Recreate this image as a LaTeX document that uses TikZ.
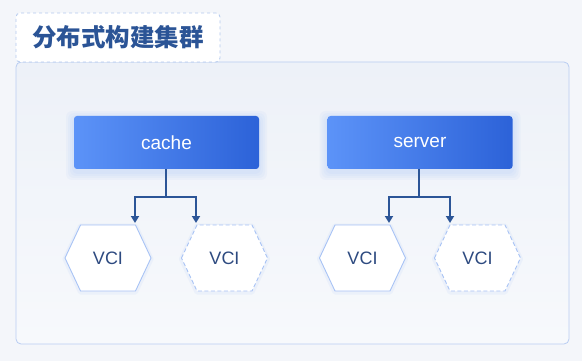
\documentclass[tikz,border=0pt]{standalone}
\usepackage{fontspec}
\setmainfont{Liberation Sans}
\newfontfamily\cjk{Noto Sans CJK SC}
\usetikzlibrary{arrows.meta}
\definecolor{bgc}{HTML}{F4F6FA}
\definecolor{panelA}{HTML}{EDF1F8}
\definecolor{panelB}{HTML}{F7F9FC}
\definecolor{panelline}{HTML}{B9CDF2}
\definecolor{titleline}{HTML}{B3C9EE}
\definecolor{titletext}{HTML}{2B5496}
\definecolor{boxA}{HTML}{5C93F8}
\definecolor{boxB}{HTML}{2C62D8}
\definecolor{conn}{HTML}{2C5597}
\definecolor{hexline}{HTML}{A8C3F5}
\definecolor{vcitext}{HTML}{2D4A80}
\tikzset{
  bluebox/.style={rounded corners=3pt, minimum width=185pt, minimum height=53pt,
    left color=boxA, right color=boxB, draw=none, text=white,
    font=\fontsize{19}{22}\selectfont},
  glow/.style={fill=boxA, opacity=0.045, draw=none},
  connline/.style={draw=conn, line width=1.8pt, -{Triangle[width=8pt,length=7pt]}},
  stem/.style={draw=conn, line width=1.8pt},
  hexsolid/.style={draw=hexline, fill=white, line width=0.9pt},
  hexdash/.style={hexsolid, dash pattern=on 4pt off 2.5pt},
  hexglow/.style={draw=hexline, opacity=0.12, line width=5pt, line join=round},
  vcilabel/.style={text=vcitext, font=\fontsize{18}{21}\selectfont}
}
\newcommand{\hexpath}{++(15.5,-33) -- ++(55,0) -- ++(15.5,33)
     -- ++(-15.5,33) -- ++(-55,0) -- cycle}
\newcommand{\hexnode}[4]{%
  \coordinate (#1c) at (#2,#3);
  \draw[hexglow] ([shift={(-43,1)}]#1c) -- \hexpath;
  \draw[#4] ([shift={(-43,0)}]#1c) -- \hexpath;
  \node[vcilabel] (#1) at (#1c) {VCI};
}
\newcommand{\boxglow}[2]{%
  \foreach \g in {2,4,6,8}{
    \fill[glow, rounded corners=6pt] (#1-92.5-\g,#2-26.5-\g+3) rectangle (#1+92.5+\g,#2+26.5+\g+3);
  }
}
\begin{document}
\begin{tikzpicture}[x=1pt,y=-1pt]
\useasboundingbox (0,0) rectangle (582,361);
\fill[bgc] (0,0) rectangle (582,361);
% panel
\path[draw=panelline, line width=0.8pt, rounded corners=5pt, top color=panelA, bottom color=panelB]
  (16,62) rectangle (569,344);
% title
\node[draw=titleline, dashed, fill=white, rounded corners=4pt, line width=0.8pt,
  minimum width=204pt, minimum height=49pt, text=titletext,
  font=\cjk\bfseries\fontsize{24.5}{27}\selectfont] (title) at (118,37.5) {分布式构建集群};
% boxes
\boxglow{166.5}{142.5}
\boxglow{420}{142.5}
\node[bluebox] (cache) at (166.5,142.5) {cache};
\node[bluebox] (server) at (420,142.5) {server};
% hexagons
\hexnode{v1}{108}{258}{hexsolid}
\hexnode{v2}{224.5}{258}{hexdash}
\hexnode{v3}{362.5}{258}{hexsolid}
\hexnode{v4}{477.5}{258}{hexdash}
% connector tips
\coordinate (t1) at (135,223);
\coordinate (t2) at (196,223);
\coordinate (t3) at (389,223);
\coordinate (t4) at (450,223);
\coordinate (j1) at (166,197);
\coordinate (j2) at (419,197);
\draw[stem] (cache.south -| j1) -- (j1);
\draw[connline] (j1) -| (t1);
\draw[connline] (j1) -| (t2);
\draw[stem] (server.south -| j2) -- (j2);
\draw[connline] (j2) -| (t3);
\draw[connline] (j2) -| (t4);
\end{tikzpicture}
\end{document}
